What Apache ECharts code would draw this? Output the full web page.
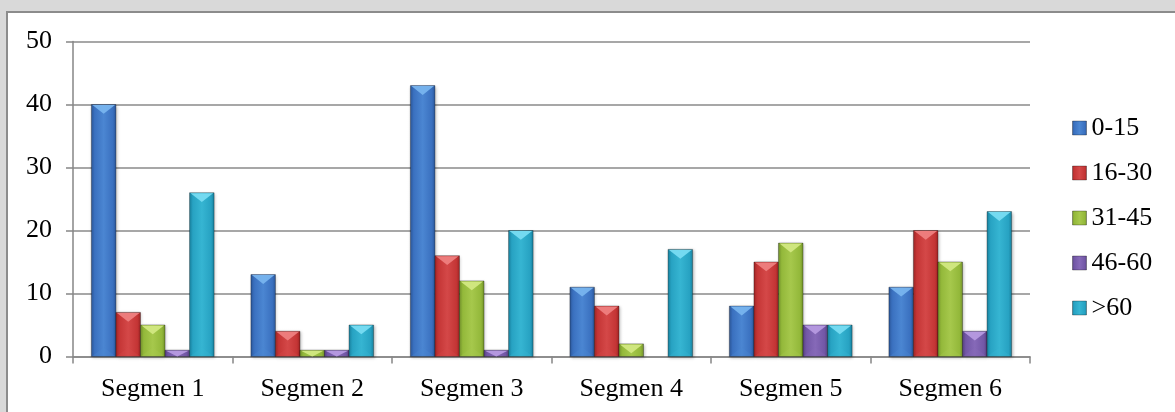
<!DOCTYPE html>
<html>
<head>
<meta charset="utf-8">
<script src="https://cdn.jsdelivr.net/npm/echarts@6/dist/echarts.min.js"></script>
<style>
  html, body { margin: 0; padding: 0; background: #ffffff; }
  #chart { width: 1175px; height: 412px; }
</style>
</head>
<body>
<div id="chart"></div>
<script>
// Categories and age-group series
const categories = ['Segmen 1', 'Segmen 2', 'Segmen 3', 'Segmen 4', 'Segmen 5', 'Segmen 6'];
const groupNames = ['0-15', '16-30', '31-45', '46-60', '>60'];
const values0to15 = [40, 13, 43, 11, 8, 11];
const values16to30 = [7, 4, 16, 8, 15, 20];
const values31to45 = [5, 1, 12, 2, 18, 15];
const values46to60 = [1, 1, 1, 0, 5, 4];
const valuesOver60 = [26, 5, 20, 17, 5, 23];
const yTicks = [0, 10, 20, 30, 40, 50];

const seriesValues = [values0to15, values16to30, values31to45, values46to60, valuesOver60];

// palette: [edge, base, light centre, top bevel]
const palettes = [
  ['#2a5597', '#3a70bf', '#4b86d2', '#78b4ee'],
  ['#9c2424', '#c43535', '#d44848', '#ee8080'],
  ['#71902a', '#93b83a', '#a6c84c', '#d2e882'],
  ['#56407f', '#7257a6', '#8669b8', '#b69ae0'],
  ['#177f9c', '#27a2c2', '#36b5d2', '#78dcf2']
];

const FONT = '"Liberation Serif", "Times New Roman", serif';
const N = groupNames.length;

function faceGradient(p) {
  return new echarts.graphic.LinearGradient(0, 0, 1, 0, [
    { offset: 0, color: p[0] },
    { offset: 0.14, color: p[1] },
    { offset: 0.5, color: p[2] },
    { offset: 0.86, color: p[1] },
    { offset: 1, color: p[0] }
  ]);
}

// bevelled column: shaded face, light top facet, faint bottom facet
function makeRender(s) {
  const p = palettes[s];
  return function (params, api) {
    const cat = api.value(0);
    const val = api.value(1);
    if (!val) return { type: 'group', children: [] };
    const top = api.coord([cat, val]);
    const base = api.coord([cat, 0]);
    const band = api.size([1, 0])[0];
    const barW = band / (N + 1.5);
    const x0 = top[0] - (N / 2) * barW + s * barW;
    const x1 = x0 + barW;
    const y0 = top[1];
    const y1 = base[1];
    const h = y1 - y0;
    const tri = Math.min(barW * 0.38, h);
    const children = [
      {
        type: 'rect',
        shape: { x: x0, y: y0, width: barW, height: h },
        style: {
          fill: faceGradient(p),
          stroke: 'rgba(0,0,0,0.3)',
          lineWidth: 1,
          shadowBlur: 3,
          shadowOffsetX: 1,
          shadowOffsetY: 1,
          shadowColor: 'rgba(0,0,0,0.25)'
        }
      },
      {
        type: 'polygon',
        shape: { points: [[x0 + 1, y0 + 0.5], [x1 - 1, y0 + 0.5], [(x0 + x1) / 2, y0 + tri]] },
        style: { fill: p[3], opacity: 0.95 }
      }
    ];
    if (h > barW) {
      children.push({
        type: 'polygon',
        shape: { points: [[x0 + 1, y1 - 0.5], [x1 - 1, y1 - 0.5], [(x0 + x1) / 2, y1 - tri]] },
        style: { fill: p[2], opacity: 0.35 }
      });
    }
    return { type: 'group', children: children };
  };
}

const series = groupNames.map(function (name, s) {
  return {
    name: name,
    type: 'custom',
    renderItem: makeRender(s),
    encode: { x: 0, y: 1 },
    itemStyle: { color: palettes[s][1] },
    data: seriesValues[s].map(function (v, i) { return [i, v]; }),
    z: 3
  };
});

const chart = echarts.init(document.getElementById('chart'), null, { renderer: 'canvas' });
chart.setOption({
  animation: false,
  backgroundColor: '#ffffff',
  graphic: [
    { type: 'rect', shape: { x: 0, y: 0, width: 1175, height: 12 }, style: { fill: '#d9d9d9' }, z: -10 },
    { type: 'rect', shape: { x: 0, y: 0, width: 7, height: 412 }, style: { fill: '#d9d9d9' }, z: -10 },
    { type: 'polyline', shape: { points: [[7, 412], [7, 12], [1175, 12]] }, style: { stroke: '#8c8c8c', lineWidth: 2, fill: null }, z: -9 }
  ],
  grid: { left: 73, right: 145, top: 41.5, bottom: 55.5, containLabel: false },
  legend: {
    orient: 'vertical',
    left: 1067,
    top: 110,
    itemWidth: 14,
    itemHeight: 14,
    itemGap: 19,
    icon: 'rect',
    textStyle: { fontFamily: FONT, fontSize: 26, color: '#000', lineHeight: 26 },
    data: groupNames.map(function (n, s) {
      return {
        name: n,
        itemStyle: { color: faceGradient(palettes[s]), borderColor: 'rgba(0,0,0,0.3)', borderWidth: 1 }
      };
    })
  },
  xAxis: {
    type: 'category',
    data: categories,
    boundaryGap: true,
    axisLine: { show: true, lineStyle: { color: '#868686', width: 1.5 } },
    axisTick: { show: true, length: 7, lineStyle: { color: '#868686', width: 1.5 } },
    axisLabel: { fontFamily: FONT, fontSize: 26, color: '#000', margin: 20 },
    splitLine: { show: false }
  },
  yAxis: {
    type: 'value',
    min: yTicks[0],
    max: yTicks[yTicks.length - 1],
    interval: yTicks[1] - yTicks[0],
    axisLine: { show: true, lineStyle: { color: '#868686', width: 1.5 } },
    axisTick: { show: true, length: 7, lineStyle: { color: '#868686', width: 1.5 } },
    axisLabel: { fontFamily: FONT, fontSize: 26, color: '#000', margin: 21 },
    splitLine: { show: true, lineStyle: { color: '#8a8a8a', width: 1.5 } }
  },
  series: series
});
</script>
</body>
</html>
